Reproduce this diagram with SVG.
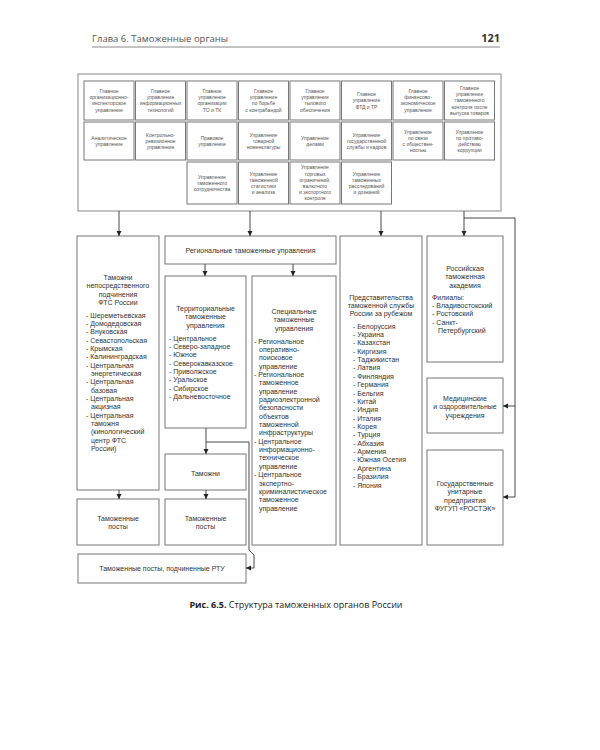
<svg xmlns="http://www.w3.org/2000/svg" width="600" height="750" viewBox="0 0 600 750">
<defs>
<marker id="ah" markerUnits="userSpaceOnUse" markerWidth="6" markerHeight="6" refX="5" refY="2.5" orient="auto">
<path d="M0,0 L5,2.5 L0,5 z" fill="#222"/>
</marker>
<style>
.bx{fill:#fff;stroke:#777;stroke-width:1}
.fr{fill:#fff;stroke:#888;stroke-width:1}
.t5{font-family:"Liberation Sans",Arial,sans-serif;font-size:5px;fill:#555;text-anchor:middle}
.t7{font-family:"Liberation Sans",Arial,sans-serif;font-size:7px;fill:#333;text-anchor:middle}
.l7{font-family:"Liberation Sans",Arial,sans-serif;font-size:7px;fill:#333}
.cn{fill:none;stroke:#333;stroke-width:0.9}
.ar{fill:none;stroke:#333;stroke-width:0.9;marker-end:url(#ah)}
</style>
</defs>
<rect width="600" height="750" fill="#fff"/>
<g id="header">
<text x="92" y="42" font-family="Open Sans, sans-serif" font-size="9.5" fill="#555">Глава 6. Таможенные органы</text>
<text x="500" y="42" font-family="Open Sans, sans-serif" font-size="11" font-weight="bold" fill="#333" text-anchor="end">121</text>
<line x1="92" y1="47" x2="500" y2="47" stroke="#888" stroke-width="1"/>
</g>
<g id="central">
<rect class="fr" x="78" y="74" width="423" height="137"/>
</g>
<g id="r1c1"><rect class="bx" x="84" y="81" width="50" height="39"/><text class="t5"><tspan x="109" y="93">Главное</tspan><tspan x="109" y="99.2">организационно-</tspan><tspan x="109" y="105.4">инспекторское</tspan><tspan x="109" y="111.6">управление</tspan></text></g>
<g id="r1c2"><rect class="bx" x="135.5" y="81" width="50" height="39"/><text class="t5"><tspan x="160.5" y="93">Главное</tspan><tspan x="160.5" y="99.2">управление</tspan><tspan x="160.5" y="105.4">информационных</tspan><tspan x="160.5" y="111.6">технологий</tspan></text></g>
<g id="r1c3"><rect class="bx" x="187" y="81" width="50" height="39"/><text class="t5"><tspan x="212" y="93">Главное</tspan><tspan x="212" y="99.2">управление</tspan><tspan x="212" y="105.4">организации</tspan><tspan x="212" y="111.6">ТО и ТК</tspan></text></g>
<g id="r1c4"><rect class="bx" x="238.5" y="81" width="50" height="39"/><text class="t5"><tspan x="263.5" y="93">Главное</tspan><tspan x="263.5" y="99.2">управление</tspan><tspan x="263.5" y="105.4">по борьбе</tspan><tspan x="263.5" y="111.6">с контрабандой</tspan></text></g>
<g id="r1c5"><rect class="bx" x="290" y="81" width="50" height="39"/><text class="t5"><tspan x="315" y="93">Главное</tspan><tspan x="315" y="99.2">управление</tspan><tspan x="315" y="105.4">тылового</tspan><tspan x="315" y="111.6">обеспечения</tspan></text></g>
<g id="r1c6"><rect class="bx" x="341.5" y="81" width="50" height="39"/><text class="t5"><tspan x="366.5" y="96.1">Главное</tspan><tspan x="366.5" y="102.3">управление</tspan><tspan x="366.5" y="108.5">ФТД и ТР</tspan></text></g>
<g id="r1c7"><rect class="bx" x="393" y="81" width="50" height="39"/><text class="t5"><tspan x="418" y="93">Главное</tspan><tspan x="418" y="99.2">финансово-</tspan><tspan x="418" y="105.4">экономическое</tspan><tspan x="418" y="111.6">управление</tspan></text></g>
<g id="r1c8"><rect class="bx" x="444.5" y="81" width="50" height="39"/><text class="t5"><tspan x="469.5" y="89.9">Главное</tspan><tspan x="469.5" y="96.1">управление</tspan><tspan x="469.5" y="102.3">таможенного</tspan><tspan x="469.5" y="108.5">контроля после</tspan><tspan x="469.5" y="114.7">выпуска товаров</tspan></text></g>
<g id="r2c1"><rect class="bx" x="84" y="122" width="50" height="38"/><text class="t5"><tspan x="109" y="139.7">Аналитическое</tspan><tspan x="109" y="145.9">управление</tspan></text></g>
<g id="r2c2"><rect class="bx" x="135.5" y="122" width="50" height="38"/><text class="t5"><tspan x="160.5" y="136.6">Контрольно-</tspan><tspan x="160.5" y="142.8">ревизионное</tspan><tspan x="160.5" y="149">управление</tspan></text></g>
<g id="r2c3"><rect class="bx" x="187" y="122" width="50" height="38"/><text class="t5"><tspan x="212" y="139.7">Правовое</tspan><tspan x="212" y="145.9">управление</tspan></text></g>
<g id="r2c4"><rect class="bx" x="238.5" y="122" width="50" height="38"/><text class="t5"><tspan x="263.5" y="136.6">Управление</tspan><tspan x="263.5" y="142.8">товарной</tspan><tspan x="263.5" y="149">номенклатуры</tspan></text></g>
<g id="r2c5"><rect class="bx" x="290" y="122" width="50" height="38"/><text class="t5"><tspan x="315" y="139.7">Управление</tspan><tspan x="315" y="145.9">делами</tspan></text></g>
<g id="r2c6"><rect class="bx" x="341.5" y="122" width="50" height="38"/><text class="t5"><tspan x="366.5" y="136.6">Управление</tspan><tspan x="366.5" y="142.8">государственной</tspan><tspan x="366.5" y="149">службы и кадров</tspan></text></g>
<g id="r2c7"><rect class="bx" x="393" y="122" width="50" height="38"/><text class="t5"><tspan x="418" y="133.5">Управление</tspan><tspan x="418" y="139.7">по связи</tspan><tspan x="418" y="145.9">с обществен-</tspan><tspan x="418" y="152.1">ностью</tspan></text></g>
<g id="r2c8"><rect class="bx" x="444.5" y="122" width="50" height="38"/><text class="t5"><tspan x="469.5" y="133.5">Управление</tspan><tspan x="469.5" y="139.7">по противо-</tspan><tspan x="469.5" y="145.9">действию</tspan><tspan x="469.5" y="152.1">коррупции</tspan></text></g>
<g id="r3c3"><rect class="bx" x="187" y="162" width="50" height="42"/><text class="t5"><tspan x="212" y="178.6">Управление</tspan><tspan x="212" y="184.8">таможенного</tspan><tspan x="212" y="191">сотрудничества</tspan></text></g>
<g id="r3c4"><rect class="bx" x="238.5" y="162" width="50" height="42"/><text class="t5"><tspan x="263.5" y="175.5">Управление</tspan><tspan x="263.5" y="181.7">таможенной</tspan><tspan x="263.5" y="187.9">статистики</tspan><tspan x="263.5" y="194.1">и анализа</tspan></text></g>
<g id="r3c5"><rect class="bx" x="290" y="162" width="50" height="42"/><text class="t5"><tspan x="315" y="169.3">Управление</tspan><tspan x="315" y="175.5">торговых</tspan><tspan x="315" y="181.7">ограничений,</tspan><tspan x="315" y="187.9">валютного</tspan><tspan x="315" y="194.1">и экспортного</tspan><tspan x="315" y="200.3">контроля</tspan></text></g>
<g id="r3c6"><rect class="bx" x="341.5" y="162" width="50" height="42"/><text class="t5"><tspan x="366.5" y="175.5">Управление</tspan><tspan x="366.5" y="181.7">таможенных</tspan><tspan x="366.5" y="187.9">расследований</tspan><tspan x="366.5" y="194.1">и дознаний</tspan></text></g>

<g id="direct">
<rect class="bx" x="77" y="236" width="82" height="254"/>
<text class="t7"><tspan x="118" y="279.5">Таможни</tspan><tspan x="118" y="288">непосредственного</tspan><tspan x="118" y="296.5">подчинения</tspan><tspan x="118" y="305">ФТС России</tspan></text>
<text class="l7">
<tspan x="86" y="317.5">- Шереметьевская</tspan>
<tspan x="86" y="325.8">- Домодедовская</tspan>
<tspan x="86" y="334.2">- Внуковская</tspan>
<tspan x="86" y="342.5">- Севастопольская</tspan>
<tspan x="86" y="350.8">- Крымская</tspan>
<tspan x="86" y="359.2">- Калининградская</tspan>
<tspan x="86" y="367.5">- Центральная</tspan>
<tspan x="91" y="375.8">энергетическая</tspan>
<tspan x="86" y="384.2">- Центральная</tspan>
<tspan x="91" y="392.5">базовая</tspan>
<tspan x="86" y="400.8">- Центральная</tspan>
<tspan x="91" y="409.2">акцизная</tspan>
<tspan x="86" y="417.5">- Центральная</tspan>
<tspan x="91" y="425.8">таможня</tspan>
<tspan x="91" y="434.2">(кинологический</tspan>
<tspan x="91" y="442.5">центр ФТС</tspan>
<tspan x="91" y="450.8">России)</tspan>
</text>
</g>
<g id="posts-direct"><rect class="bx" x="77" y="499" width="82" height="46"/><text class="t7"><tspan x="118" y="520.5">Таможенные</tspan><tspan x="118" y="529">посты</tspan></text></g>

<g id="regional"><rect class="bx" x="165" y="236" width="171" height="28"/><text class="t7" x="250.5" y="252.5">Региональные таможенные управления</text></g>
<g id="territorial">
<rect class="bx" x="165" y="276" width="81" height="152"/>
<text class="t7"><tspan x="205.5" y="310.5">Территориальные</tspan><tspan x="205.5" y="319">таможенные</tspan><tspan x="205.5" y="327.5">управления</tspan></text>
<text class="l7">
<tspan x="169" y="340.5">- Центральное</tspan>
<tspan x="169" y="348.8">- Северо-западное</tspan>
<tspan x="169" y="357.2">- Южное</tspan>
<tspan x="169" y="365.5">- Северокавказское</tspan>
<tspan x="169" y="373.8">- Приволжское</tspan>
<tspan x="169" y="382.2">- Уральское</tspan>
<tspan x="169" y="390.5">- Сибирское</tspan>
<tspan x="169" y="398.8">- Дальневосточное</tspan>
</text>
</g>
<g id="customs"><rect class="bx" x="165" y="454" width="81" height="36"/><text class="t7" x="205.5" y="475.5">Таможни</text></g>
<g id="posts-terr"><rect class="bx" x="165" y="499" width="81" height="46"/><text class="t7"><tspan x="205.5" y="520.5">Таможенные</tspan><tspan x="205.5" y="529">посты</tspan></text></g>
<g id="posts-rtu"><rect class="bx" x="78" y="554" width="168" height="29"/><text class="t7" x="162" y="570.5">Таможенные посты, подчиненные РТУ</text></g>

<g id="special">
<rect class="bx" x="252" y="276" width="84" height="269"/>
<text class="t7"><tspan x="294" y="313.5">Специальные</tspan><tspan x="294" y="322">таможенные</tspan><tspan x="294" y="330.5">управления</tspan></text>
<text class="l7">
<tspan x="254" y="343.5">- Региональное</tspan>
<tspan x="259" y="351.9">оперативно-</tspan>
<tspan x="259" y="360.2">поисковое</tspan>
<tspan x="259" y="368.6">управление</tspan>
<tspan x="254" y="376.9">- Региональное</tspan>
<tspan x="259" y="385.3">таможенное</tspan>
<tspan x="259" y="393.6">управление</tspan>
<tspan x="259" y="402">радиоэлектронной</tspan>
<tspan x="259" y="410.3">безопасности</tspan>
<tspan x="259" y="418.7">объектов</tspan>
<tspan x="259" y="427">таможенной</tspan>
<tspan x="259" y="435.4">инфраструктуры</tspan>
<tspan x="254" y="443.7">- Центральное</tspan>
<tspan x="259" y="452.1">информационно-</tspan>
<tspan x="259" y="460.4">техническое</tspan>
<tspan x="259" y="468.8">управление</tspan>
<tspan x="254" y="477.1">- Центральное</tspan>
<tspan x="259" y="485.5">экспертно-</tspan>
<tspan x="259" y="493.8">криминалистическое</tspan>
<tspan x="259" y="502.2">таможенное</tspan>
<tspan x="259" y="510.5">управление</tspan>
</text>
</g>

<g id="abroad">
<rect class="bx" x="340" y="236" width="82" height="309"/>
<text class="t7"><tspan x="381" y="299.5">Представительства</tspan><tspan x="381" y="307.8">таможенной службы</tspan><tspan x="381" y="316">России за рубежом</tspan></text>
<text class="l7">
<tspan x="353" y="328.5">- Белоруссия</tspan>
<tspan x="353" y="336.9">- Украина</tspan>
<tspan x="353" y="345.2">- Казахстан</tspan>
<tspan x="353" y="353.6">- Киргизия</tspan>
<tspan x="353" y="362">- Таджикистан</tspan>
<tspan x="353" y="370.3">- Латвия</tspan>
<tspan x="353" y="378.7">- Финляндия</tspan>
<tspan x="353" y="387.1">- Германия</tspan>
<tspan x="353" y="395.5">- Бельгия</tspan>
<tspan x="353" y="403.8">- Китай</tspan>
<tspan x="353" y="412.2">- Индия</tspan>
<tspan x="353" y="420.6">- Италия</tspan>
<tspan x="353" y="428.9">- Корея</tspan>
<tspan x="353" y="437.3">- Турция</tspan>
<tspan x="353" y="445.7">- Абхазия</tspan>
<tspan x="353" y="454">- Армения</tspan>
<tspan x="353" y="462.4">- Южная Осетия</tspan>
<tspan x="353" y="470.8">- Аргентина</tspan>
<tspan x="353" y="479.2">- Бразилия</tspan>
<tspan x="353" y="487.5">- Япония</tspan>
</text>
</g>

<g id="academy">
<rect class="bx" x="427" y="236" width="76" height="126"/>
<text class="t7"><tspan x="465" y="270.5">Российская</tspan><tspan x="465" y="279">таможенная</tspan><tspan x="465" y="287.5">академия</tspan></text>
<text class="l7">
<tspan x="432" y="299.5">Филиалы:</tspan>
<tspan x="432" y="308">- Владивостокский</tspan>
<tspan x="432" y="316.3">- Ростовский</tspan>
<tspan x="432" y="324.7">- Санкт-</tspan>
<tspan x="438" y="333">Петербургский</tspan>
</text>
</g>
<g id="medical"><rect class="bx" x="427" y="378" width="76" height="55"/><text class="t7"><tspan x="465" y="400.5">Медицинские</tspan><tspan x="465" y="409">и оздоровительные</tspan><tspan x="465" y="417.5">учреждения</tspan></text></g>
<g id="enterprises"><rect class="bx" x="427" y="450" width="76" height="95"/><text class="t7"><tspan x="465" y="485.5">Государственные</tspan><tspan x="465" y="494">унитарные</tspan><tspan x="465" y="502.5">предприятия</tspan><tspan x="465" y="511">ФУГУП «РОСТЭК»</tspan></text></g>

<g id="connectors">
<path class="ar" d="M119,211 V236"/>
<path class="ar" d="M250,211 V236"/>
<path class="ar" d="M381,211 V236"/>
<path class="ar" d="M464,211 V236"/>
<path class="ar" d="M205,264 V276"/>
<path class="ar" d="M293,264 V276"/>
<path class="ar" d="M119,490 V499"/>
<path class="ar" d="M206,428 V454"/>
<path class="ar" d="M206,490 V499"/>
<path class="ar" d="M206,442 H249 V550 L254,555 V568 H246"/>
<path class="cn" d="M464,218 H515 V497"/>
<path class="ar" d="M515,497 H503"/>
<path class="ar" d="M515,406 H503"/>
</g>

<g id="caption">
<text x="296" y="608" font-family="Open Sans, sans-serif" font-size="9" fill="#222" text-anchor="middle"><tspan font-weight="bold">Рис. 6.5.</tspan> Структура таможенных органов России</text>
</g>
</svg>
